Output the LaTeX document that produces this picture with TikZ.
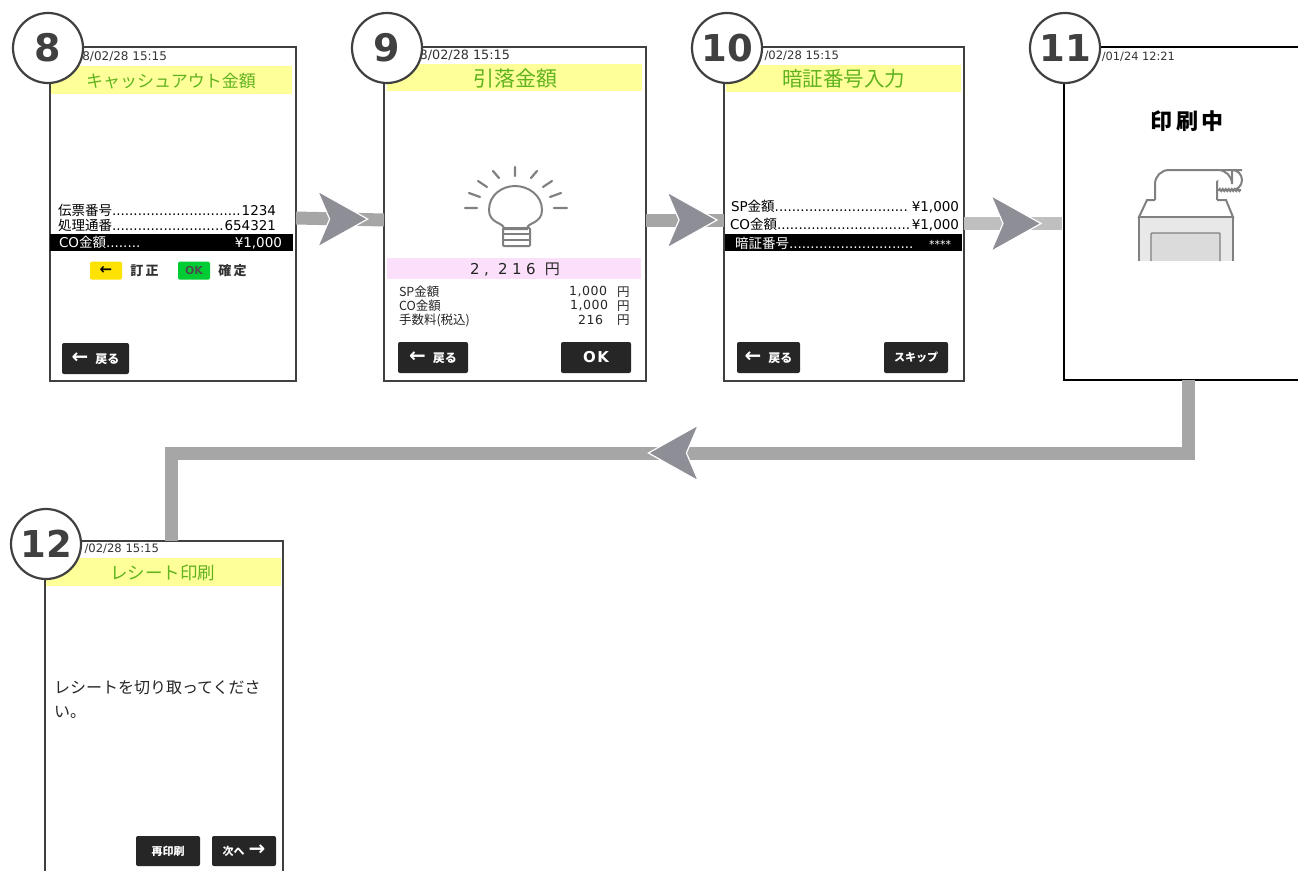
\documentclass[tikz,border=0pt]{standalone}
\usepackage{fontspec}
\setmainfont{DejaVu Sans}
\newfontfamily\jpfont{Noto Sans CJK JP}
\newcommand{\jp}[1]{{\jpfont #1}}
\newcommand{\fs}[1]{\fontsize{#1}{#1}\selectfont}
\newcommand{\rowtext}[3]{\makebox[#1][l]{#2\hfill #3}}
\usetikzlibrary{decorations.pathmorphing}
\definecolor{bezel}{HTML}{404040}
\definecolor{titlebg}{HTML}{FFFF99}
\definecolor{titlefg}{HTML}{5FB31E}
\definecolor{pinkbg}{HTML}{FBDFFB}
\definecolor{btnbg}{HTML}{262626}
\definecolor{flowgray}{HTML}{A6A6A6}
\definecolor{flowlight}{HTML}{BFBFBF}
\definecolor{chevgray}{HTML}{8E8E96}
\definecolor{icongray}{HTML}{808080}
\tikzset{chevron/.pic={\draw[white,fill=chevgray,line width=1.2pt,line join=miter] (-25,-28) -- (25,0) -- (-25,28) -- (-13,0) -- cycle;}}

\begin{document}
\begin{tikzpicture}[x=1pt,y=-1pt,inner sep=0pt,outer sep=0pt]
  \tikzstyle{screen}=[rectangle,draw=bezel,line width=2pt,fill=white,anchor=north west]
  \tikzstyle{titlebar}=[rectangle,fill=titlebg,text=titlefg,anchor=north west,minimum height=28pt]
  \tikzstyle{stamp}=[anchor=east,text=black!80,font=\fs{12}]
  \tikzstyle{rowline}=[anchor=west,text=black,font=\fs{13.5}]
  \tikzstyle{blackbar}=[rectangle,fill=black,anchor=north west]
  \tikzstyle{smallrow}=[anchor=west,text=black!85,font=\fs{12.5}\addfontfeature{LetterSpace=4}]
  \tikzstyle{btn}=[rectangle,fill=btnbg,rounded corners=2pt,text=white,minimum height=31pt,anchor=north west,font=\bfseries]
  \tikzstyle{badge}=[circle,draw=bezel,line width=2.2pt,fill=white,text=bezel,minimum size=70pt,font=\fs{38}\bfseries]
  \tikzstyle{flow}=[draw=flowgray,line width=13pt]
  \tikzstyle{icon}=[draw=icongray,line width=2pt]

  \useasboundingbox (0,0) rectangle (1298,870);
  \clip (0,0) rectangle (1298,870);

  \node[screen,minimum width=246pt,minimum height=334pt] (s8) at (50,47) {};
  \node[screen,minimum width=262pt,minimum height=334pt] (s9) at (384,47) {};
  \node[screen,minimum width=240pt,minimum height=334pt] (s10) at (724,47) {};
  \node[screen,draw=black,line width=2.4pt,minimum width=400pt,minimum height=333pt] (s11) at (1064,47) {};
  \node[screen,minimum width=238pt,minimum height=400pt] (s12) at (45,541) {};

  \node[stamp] (t8) at (167,57) {8/02/28 15:15};
  \node[titlebar,minimum width=241pt] (h8) at (51,66) {};
  \node[text=titlefg,font=\fs{17}\jpfont] (l8) at (171,81) {キャッシュアウト金額};
  \node[rowline] (r81) at (58,210) {\rowtext{218pt}{\jp{伝票番号}..............................}{1234}};
  \node[rowline] (r82) at (58,225) {\rowtext{218pt}{\jp{処理通番}..........................}{654321}};
  \node[blackbar,minimum width=243pt,minimum height=17pt] (k8) at (50,234) {};
  \node[rowline,text=white] (r83) at (59,243) {\rowtext{223pt}{CO\jp{金額}........}{¥1,000}};
  \node[rectangle,fill=yellow!85!orange,rounded corners=1.5pt,minimum width=32pt,minimum height=18pt,font=\fs{15}\bfseries] (ky) at (106,270.5) {←};
  \node[font=\fs{13}\bfseries\jpfont,text=black!80] (ky2) at (144.5,270.5) {訂\,正};
  \node[rectangle,fill=green!60!teal,rounded corners=1.5pt,minimum width=32pt,minimum height=18pt,font=\fs{11}\bfseries,text=black!70] (kg) at (194,270.5) {OK};
  \node[font=\fs{13}\bfseries\jpfont,text=black!80] (kg2) at (232.5,270.5) {確\,定};
  \node[btn,minimum width=67pt] (b8) at (62,343) {\fs{20}← \fs{12}\jp{戻る}};

  \node[stamp,font=\fs{12.8}] (t9) at (510,55) {8/02/28 15:15};
  \node[titlebar,minimum width=255pt,minimum height=27pt] (h9) at (387,64) {};
  \node[text=titlefg,font=\fs{21}\jpfont] (l9) at (515,79) {引落金額};
  \node[circle,icon,minimum size=0pt] (bulb) at (515,211) {};
  \draw[icon,fill=white] (504,229) .. controls (504,222) and (489,224) .. (489,210)
    .. controls (489,195) and (502,186) .. (515,186)
    .. controls (528,186) and (542,195) .. (542,210)
    .. controls (542,224) and (527,222) .. (527,229) -- cycle;
  \draw[icon,rounded corners=1pt] (503,228) rectangle (530,246);
  \draw[icon] (503,234) -- (530,234) (503,240) -- (530,240);
  \draw[icon,line width=2.2pt,line cap=round] (515,167) -- (515,176)
    (493,171) -- (499,178) (478,181) -- (487,187) (469,193) -- (480,197) (465,208) -- (477,208)
    (537,171) -- (531,178) (552,181) -- (543,187) (561,193) -- (550,197) (567,208) -- (554,208);
  \node[rectangle,fill=pinkbg,minimum width=254pt,minimum height=21pt,anchor=north west] (p9) at (387,258) {};
  \node[font=\fs{15}\addfontfeature{LetterSpace=30},text=black!85] (a9) at (515,270) {2, 216 \jp{円}};
  \node[smallrow] (r91) at (399,292) {\jp{SP金額}};
  \node[smallrow] (r92) at (399,306) {\jp{CO金額}};
  \node[smallrow] (r93) at (399,320) {\jp{手数料(税込)}};
  \node[smallrow,anchor=east] (v91) at (607,292) {1,000};
  \node[smallrow,anchor=east] (v92) at (608,306) {1,000};
  \node[smallrow,anchor=east] (v93) at (603,320) {216};
  \node[smallrow] (y91) at (617,292) {\jp{円}};
  \node[smallrow] (y92) at (617,306) {\jp{円}};
  \node[smallrow] (y93) at (617,320) {\jp{円}};
  \node[btn,minimum width=70pt] (b9a) at (398,342) {\fs{20}← \fs{12}\jp{戻る}};
  \node[btn,minimum width=70pt] (b9b) at (561,342) {\fs{15}\addfontfeature{LetterSpace=10}OK};

  \node[stamp,font=\fs{11.6}] (t10) at (839,56) {/02/28 15:15};
  \node[titlebar,minimum width=235pt,minimum height=27pt] (h10) at (726,65) {};
  \node[text=titlefg,font=\fs{20.5}\jpfont] (l10) at (843.5,79) {暗証番号入力};
  \node[rowline] (r101) at (731,207) {\rowtext{228pt}{SP\jp{金額}...............................}{¥1,000}};
  \node[rowline] (r102) at (730,225) {\rowtext{229pt}{CO\jp{金額}...............................}{¥1,000}};
  \node[blackbar,minimum width=237pt,minimum height=17pt] (k10) at (725,234) {};
  \node[rowline,text=white] (r103) at (735,243) {\rowtext{216pt}{\jp{暗証番号}.............................}{\fs{11}****}};
  \node[btn,minimum width=63pt] (b10a) at (737,342) {\fs{20}← \fs{12}\jp{戻る}};
  \node[btn,minimum width=64pt] (b10b) at (884,342) {\fs{11}\jp{スキップ}};

  \node[stamp,font=\fs{11.4}] (t11) at (1175,57) {7/01/24 12:21};
  \node[font=\fs{22}\bfseries\jpfont,text=black] (l11) at (1187,121) {印\,刷\,中};
  \draw[icon,fill=white,rounded corners=10pt] (1217,217) -- (1217,192) .. controls (1217,178) and (1222,170) .. (1232,170) -- (1242,170) -- (1242,190) -- (1218,190);
  \draw[icon,fill=white,rounded corners=14pt] (1155,220) -- (1155,170) -- (1232,170) -- (1232,171);
  \draw[icon,decorate,decoration={zigzag,segment length=3pt,amplitude=1pt}] (1219,190) -- (1241,190);
  \draw[icon,fill=white] (1155,200) -- (1147,200) -- (1139,217) -- (1233,217) -- (1226,200) -- (1217,200);
  \draw[icon,fill=black!9] (1139,261) -- (1139,217) -- (1233,217) -- (1233,261);
  \draw[icon,line width=1.4pt,fill=black!14,rounded corners=1pt] (1151,261) -- (1151,233) -- (1220,233) -- (1220,261);

  \node[stamp,font=\fs{11.6}] (t12) at (159,549) {/02/28 15:15};
  \node[titlebar,minimum width=235pt] (h12) at (46,558) {};
  \node[text=titlefg,font=\fs{17.5}\jpfont] (l12) at (162.5,573) {レシート印刷};
  \node[anchor=west,text=black!85,font=\fs{16}\jpfont] (m121) at (54,688) {レシートを切り取ってくださ};
  \node[anchor=west,text=black!85,font=\fs{16}\jpfont] (m122) at (54,712) {い。};
  \node[btn,minimum width=64pt,minimum height=30pt] (b12a) at (136,836) {\fs{11}\jp{再印刷}};
  \node[btn,minimum width=64pt,minimum height=30pt] (b12b) at (212,836) {\fs{11}\jp{次へ} \fs{20}→};

  \coordinate (bend1) at (1188,453);
  \coordinate (bend2) at (171,453);

  \draw[flow] ([yshift=-4pt]s8.east) -- pic[pos=.53] {chevron} ([yshift=-6pt]s9.west);
  \draw[flow] ([yshift=-6pt]s9.east) -- pic[pos=.59] {chevron} ([yshift=-6pt]s10.west);
  \draw[flow,draw=flowlight,shorten >=2pt] ([yshift=-9.5pt]s10.east) -- pic[pos=.52] {chevron} ([yshift=-10pt]s11.west);
  \draw[flow,line join=miter] (bend1 |- s11.south) -- (bend1) -- pic[pos=.506,rotate=180] {chevron} (bend2) -- (bend2 |- s12.north);

  \node[badge] (n8) at (48,48) {8};
  \node[badge] (n9) at (387,48) {9};
  \node[badge,font=\fs{37}\bfseries] (n10) at (727,48) {10};
  \node[badge,font=\fs{37}\bfseries] (n11) at (1065,48) {11};
  \node[badge,font=\fs{37}\bfseries] (n12) at (46,544) {12};
\end{tikzpicture}
\end{document}
